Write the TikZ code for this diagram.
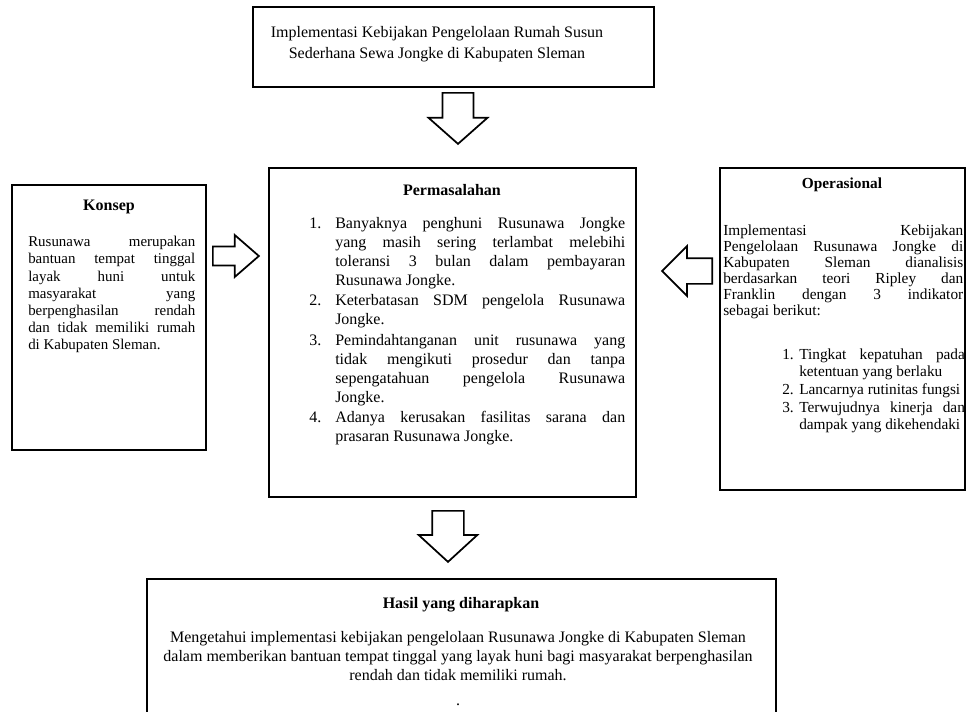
\documentclass[tikz,border=0pt]{standalone}
\usepackage{fontspec}
\setmainfont{Liberation Serif}
\usepackage{tikz}
\usetikzlibrary{shapes.arrows, fit}

\newlength{\numw}
\newcommand{\listitem}[2]{\par\hangindent=\numw\hangafter=1\noindent\makebox[\numw][l]{#1}#2}

\begin{document}
\begin{tikzpicture}[x=0.75pt, y=-0.75pt, font=\fontsize{12}{14.25}\selectfont,
  box/.style={draw, line width=1.4pt, inner sep=0pt},
  boxtitle/.style={font=\fontsize{12}{14}\selectfont\bfseries, inner sep=0pt},
  bodytext/.style={anchor=north west, inner sep=0pt, align=justify},
  blockarrow/.style={single arrow, draw, line width=1.3pt, fill=white,
    inner sep=0pt, minimum width=0pt, anchor=tail}]

  \useasboundingbox (0,0) rectangle (968,711);
  \clip (0,0) rectangle (968,711);

  % ── Kotak atas ──
  \node[box, fit={(253,7) (654,87)}] (judul) {};
  \node[align=center, inner sep=0pt, font=\fontsize{12}{16}\selectfont]
    (judultxt) at (437,44)
    {Implementasi Kebijakan Pengelolaan Rumah Susun\\
     Sederhana Sewa Jongke di Kabupaten Sleman};

  % ── Konsep ──
  \node[box, fit={(12,185) (206,450)}] (konsep) {};
  \node[boxtitle] (konsepjdl) at (109,207) {Konsep};
  \node[bodytext, text width=125.25pt, font=\fontsize{11.2}{12.9}\selectfont]
    (konseptxt) at (28,236)
    {Rusunawa merupakan\linebreak bantuan tempat tinggal\linebreak
     layak huni untuk\linebreak masyarakat yang\linebreak
     berpenghasilan rendah\linebreak dan tidak memiliki rumah\linebreak
     di Kabupaten Sleman.};

  % ── Permasalahan ──
  \node[box, fit={(269,168) (636,497)}] (masalah) {};
  \node[boxtitle] (masalahjdl) at (452,190) {Permasalahan};
  \node[bodytext, text width=237pt] (masalahtxt) at (309,208) {%
    \setlength{\numw}{19.5pt}\setlength{\parskip}{1pt}%
    \listitem{1.}{Banyaknya penghuni Rusunawa Jongke\linebreak
      yang masih sering terlambat melebihi\linebreak
      toleransi 3 bulan dalam pembayaran\linebreak Rusunawa Jongke.}
    \listitem{2.}{Keterbatasan SDM pengelola Rusunawa\linebreak Jongke.}
    \listitem{3.}{Pemindahtanganan unit rusunawa yang\linebreak
      tidak mengikuti prosedur dan tanpa\linebreak
      sepengatahuan pengelola Rusunawa\linebreak Jongke.}
    \listitem{4.}{Adanya kerusakan fasilitas sarana dan\linebreak
      prasaran Rusunawa Jongke.}\par};

  % ── Operasional ──
  \node[box, fit={(720,168) (965,490)}] (ops) {};
  \node[boxtitle, font=\fontsize{11.5}{14}\selectfont\bfseries] (opsjdl)
    at (842,185) {Operasional};
  \node[bodytext, text width=180pt, font=\fontsize{11.5}{12}\selectfont]
    (opstxt) at (723,225)
    {Implementasi Kebijakan\linebreak Pengelolaan Rusunawa Jongke di\linebreak
     Kabupaten Sleman dianalisis\linebreak berdasarkan teori Ripley dan\linebreak
     Franklin dengan 3 indikator\linebreak sebagai berikut:};
  \node[bodytext, text width=137pt, font=\fontsize{11.5}{12.45}\selectfont]
    (opslist) at (782,341) {%
    \setlength{\numw}{12.75pt}\setlength{\parskip}{1.2pt}%
    \listitem{1.}{Tingkat kepatuhan pada\linebreak ketentuan yang berlaku}
    \listitem{2.}{Lancarnya rutinitas fungsi}
    \listitem{3.}{Terwujudnya kinerja dan\linebreak dampak yang dikehendaki}\par};

  % ── Hasil ──
  \node[box, fit={(147,579) (776,730)}] (hasil) {};
  \node[boxtitle] (hasiljdl) at (461,605) {Hasil yang diharapkan};
  \node[align=center, anchor=north, inner sep=0pt] (hasiltxt) at (458,631)
    {Mengetahui implementasi kebijakan pengelolaan Rusunawa Jongke di Kabupaten Sleman\\
     dalam memberikan bantuan tempat tinggal yang layak huni bagi masyarakat berpenghasilan\\
     rendah dan tidak memiliki rumah.};
  \node[inner sep=0pt] (titik) at (458,705) {.};

  % ── Panah blok (diletakkan dari ekornya) ──
  \node[blockarrow, rotate=-90, minimum height=38.25pt, inner ysep=10.9pt,
        single arrow head extend=10.5pt, single arrow tip angle=97]
    (panah1) at (458,92) {};
  \node[blockarrow, minimum height=34.5pt, inner ysep=6.4pt,
        single arrow head extend=8.6pt, single arrow tip angle=82]
    (panah2) at (212,256) {};
  \node[blockarrow, rotate=180, minimum height=37.5pt, inner ysep=9pt,
        single arrow head extend=9pt, single arrow tip angle=90]
    (panah3) at (713,271) {};
  \node[blockarrow, rotate=-90, minimum height=38.25pt, inner ysep=11.25pt,
        single arrow head extend=10.1pt, single arrow tip angle=95]
    (panah4) at (448,510) {};

\end{tikzpicture}
\end{document}
